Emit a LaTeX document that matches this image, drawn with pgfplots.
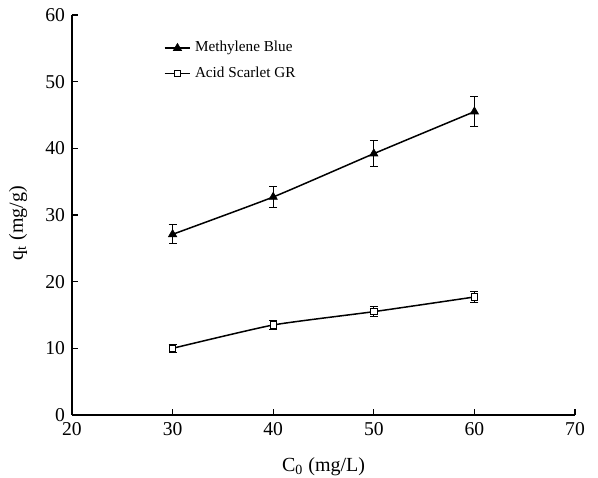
\documentclass[border=0pt]{standalone}
\usepackage{fontspec}
\setmainfont{Liberation Serif}
\usepackage{pgfplots}
\pgfplotsset{compat=1.18}

\begin{document}
\begin{tikzpicture}
\begin{axis}[
    name=ax,
    scale only axis, width=251.5pt, height=200pt,
    xmin=20, xmax=70, ymin=0, ymax=60,
    xtick={20,30,...,70}, ytick={0,10,...,60},
    axis lines=left, axis line style={line width=0.75pt, -},
    tick style={line width=0.6pt, black}, tick align=inside,
    major tick length=3pt,
    /pgf/number format/assume math mode=true,
    tick label style={font=\fontsize{9.8}{11}\selectfont},
    label style={font=\fontsize{10}{11}\selectfont},
    xlabel={C\textsubscript{0} (mg/L)}, ylabel={q\textsubscript{t} (mg/g)},
    xlabel style={at={(axis description cs:0.5,-0.09)}, anchor=north},
    ylabel style={at={(axis description cs:-0.075,0.48)}, anchor=south},
    legend style={draw=none, fill=none, at={(axis description cs:0.17,0.955)}, anchor=north west,
        font=\fontsize{7.6}{9}\selectfont, row sep=2pt},
    legend cell align=left,
    legend image code/.code={\draw[#1] (0cm,0cm) -- (0.45cm,0cm); \path[#1] plot[only marks] coordinates {(0.225cm,0cm)};},
    every axis plot/.append style={black, line width=0.75pt},
    error bars/error bar style={line width=0.5pt},
    error bars/error mark options={rotate=90, mark size=2pt, line width=0.5pt},
]
\addplot[smooth, tension=0.3, mark=triangle*, mark size=2.3pt, mark options={solid, fill=black, line width=0.4pt},
    error bars/.cd, y dir=both, y explicit]
    coordinates {(30,27.1) +- (0,1.4) (40,32.7) +- (0,1.6) (50,39.2) +- (0,2.0) (60,45.5) +- (0,2.2)};
\addlegendentry{Methylene Blue}
\addplot[smooth, tension=0.3, mark=square*, mark size=1.6pt, mark options={solid, fill=white, line width=0.5pt},
    error bars/.cd, y dir=both, y explicit]
    coordinates {(30,10.0) +- (0,0.6) (40,13.5) +- (0,0.7) (50,15.5) +- (0,0.8) (60,17.7) +- (0,0.8)};
\addlegendentry{Acid Scarlet GR}
\end{axis}
\pgfresetboundingbox
\path ([shift={(-36pt,-31.5pt)}]ax.south west) rectangle ([shift={(11.5pt,7.5pt)}]ax.north east);
\end{tikzpicture}
\end{document}
